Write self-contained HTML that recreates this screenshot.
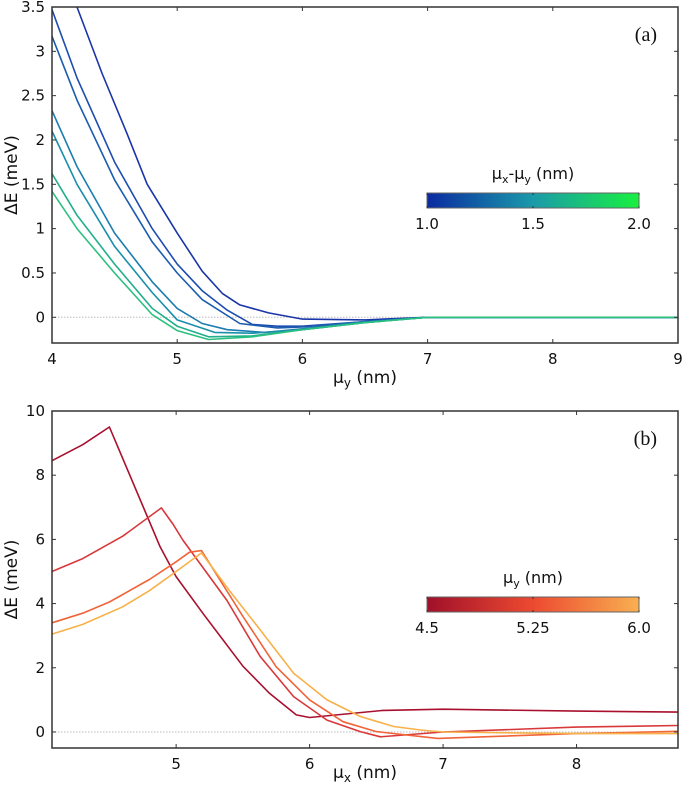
<!DOCTYPE html>
<html><head><meta charset="utf-8"><style>
body{margin:0;background:#fff;}
svg{display:block;font-family:"DejaVu Sans","Liberation Sans",sans-serif;}
</style></head><body>
<svg id="chart" width="685" height="793" viewBox="0 0 685 793">
<defs>
<linearGradient id="gA" x1="0" x2="1"><stop offset="0" stop-color="#0a2aa0"/><stop offset="0.5" stop-color="#1a9aaa"/><stop offset="1" stop-color="#18f040"/></linearGradient>
<linearGradient id="gB" x1="0" x2="1"><stop offset="0" stop-color="#a0102a"/><stop offset="0.5" stop-color="#ec4a30"/><stop offset="1" stop-color="#f8b050"/></linearGradient>
</defs>
<g id="pa"></g>
<g id="pb"></g>
</svg>
<script>
// Panel (a) data
const aXTicks=[4,5,6,7,8,9];
const aYTicks=[0,0.5,1,1.5,2,2.5,3,3.5];
const aColors=["#1a35a8","#1c4cb0","#1b5cae","#1a7cb0","#1a8eaa","#22ae8c","#2cc080"];
const aSeriesX=[
[4.2,4.4,4.6,4.76,5.0,5.2,5.36,5.5,5.73,6.0,6.5,7,8,9],
[4.0,4.2,4.5,4.8,5.0,5.2,5.4,5.6,5.8,6.0,6.5,7,8,9],
[4.0,4.2,4.5,4.8,5.0,5.2,5.5,5.8,6.0,6.5,7,8,9],
[4.0,4.2,4.5,4.8,5.0,5.2,5.4,5.7,6.0,6.5,7,8,9],
[4.0,4.2,4.5,4.8,5.0,5.3,5.6,6.0,6.5,7,8,9],
[4.0,4.2,4.5,4.8,5.0,5.25,5.6,6.0,6.5,7,8,9],
[4.0,4.2,4.5,4.8,5.0,5.25,5.6,6.0,6.5,7,8,9]];
const aSeriesY=[
[3.5,2.75,2.07,1.5,0.95,0.52,0.27,0.14,0.05,-0.02,-0.03,0,0,0],
[3.47,2.7,1.75,1.0,0.6,0.3,0.08,-0.08,-0.1,-0.1,-0.05,0,0,0],
[3.17,2.45,1.55,0.85,0.5,0.2,-0.07,-0.12,-0.11,-0.05,0,0,0],
[2.33,1.7,0.95,0.4,0.1,-0.07,-0.14,-0.17,-0.13,-0.05,0,0,0],
[2.1,1.5,0.8,0.28,-0.03,-0.17,-0.18,-0.14,-0.06,0,0,0],
[1.62,1.15,0.6,0.1,-0.1,-0.22,-0.21,-0.14,-0.06,0,0,0],
[1.42,1.0,0.5,0.03,-0.15,-0.25,-0.22,-0.14,-0.06,0,0,0]];
// Panel (b) data
const bXTicks=[5,6,7,8];
const bYTicks=[0,2,4,6,8,10];
const bColors=["#a8102e","#d8383a","#f06438","#f8b048"];
const bSeriesX=[
[4.07,4.3,4.5,4.88,5.0,5.2,5.5,5.7,5.9,6.0,6.55,7.0,8.0,8.76],
[4.07,4.3,4.6,4.89,4.98,5.05,5.38,5.63,5.88,6.13,6.38,6.53,7.0,8.0,8.76],
[4.07,4.3,4.5,4.8,5.0,5.1,5.19,5.5,5.75,6.0,6.25,6.5,6.96,8.0,8.76],
[4.07,4.3,4.6,4.8,5.0,5.19,5.4,5.63,5.88,6.13,6.38,6.63,6.83,7.0,8.0,8.76]];
const bSeriesY=[
[8.45,8.95,9.5,5.77,4.84,3.7,2.05,1.2,0.53,0.45,0.67,0.71,0.65,0.62],
[5.0,5.4,6.1,6.98,6.45,5.98,4.1,2.35,1.1,0.37,0.01,-0.15,0.0,0.15,0.2],
[3.4,3.7,4.05,4.75,5.3,5.6,5.65,3.6,2.03,1.0,0.32,0.01,-0.2,-0.05,0.02],
[3.05,3.35,3.9,4.4,5.0,5.58,4.4,3.18,1.83,1.0,0.48,0.17,0.06,0.0,-0.05,-0.05]];

const NS="http://www.w3.org/2000/svg";
function mk(p,t,a){const e=document.createElementNS(NS,t);for(const k in a)e.setAttribute(k,a[k]);p.appendChild(e);return e;}
const L=52,R=678;
function panel(g,o){
  const sx=v=>L+(v-o.x0)/(o.x1-o.x0)*(R-L);
  const sy=v=>o.top+(o.y1-v)/(o.y1-o.y0)*(o.bot-o.top);
  const zl=mk(g,'line',{x1:L,x2:R,y1:sy(0),y2:sy(0),stroke:'#bbb','stroke-dasharray':'1.5,1.5','stroke-width':1});
  
  
  o.sx.forEach((xs,i)=>{
    const d=xs.map((x,j)=>(j?'L':'M')+sx(x).toFixed(1)+','+sy(o.sy[i][j]).toFixed(1)).join('');
    const p=mk(g,'path',{d:d,fill:'none',stroke:o.colors[i],'stroke-width':1.6,'stroke-linejoin':'round'});
    
    
  });
  const fr=mk(g,'rect',{x:L,y:o.top,width:R-L,height:o.bot-o.top,fill:'none',stroke:'#333','stroke-width':1.5});
  
  
  o.xt.forEach(v=>{
    mk(g,'line',{x1:sx(v),x2:sx(v),y1:o.bot,y2:o.bot-4,stroke:'#333'});
    mk(g,'line',{x1:sx(v),x2:sx(v),y1:o.top,y2:o.top+4,stroke:'#333'});
    const t=mk(g,'text',{x:sx(v),y:o.bot+21,'text-anchor':'middle','font-size':15,fill:'#111'});t.textContent=v;
    
    
  });
  o.yt.forEach(v=>{
    mk(g,'line',{x1:L,x2:L+4,y1:sy(v),y2:sy(v),stroke:'#333'});
    mk(g,'line',{x1:R,x2:R-4,y1:sy(v),y2:sy(v),stroke:'#333'});
    const t=mk(g,'text',{x:L-7,y:sy(v)+5,'text-anchor':'end','font-size':15,fill:'#111'});t.textContent=v;
    
    
  });
  const yl=mk(g,'text',{transform:`translate(17,${(o.top+o.bot)/2}) rotate(-90)`,'text-anchor':'middle','font-size':17,fill:'#111'});
  yl.textContent='ΔE (meV)';
  
  
  const xl=mk(g,'text',{x:365,y:o.bot+o.xlOff,'text-anchor':'middle','font-size':17,fill:'#111'});
  xl.innerHTML='μ<tspan font-size="12" dy="4">'+o.sub+'</tspan><tspan dy="-4"> (nm)</tspan>';
  
  
  const pl=mk(g,'text',{x:657,y:o.top+34,'text-anchor':'end','font-size':20,'font-family':'Liberation Serif,serif',fill:'#111'});
  pl.textContent=o.label;
  
  
  const cb=mk(g,'rect',{x:427,y:o.cby,width:212,height:15,fill:o.grad,stroke:'#666'});
  
  
  const ct=mk(g,'text',{x:533,y:o.cby-14,'text-anchor':'middle','font-size':16,fill:'#111'});
  ct.innerHTML=o.cbTitle;
  
  
  o.cbl.forEach((s,i)=>{
    const x=427+i*106;
    mk(g,'line',{x1:x,x2:x,y1:o.cby,y2:o.cby+15,stroke:'#333','stroke-dasharray':'2,11'});
    const t=mk(g,'text',{x:x,y:o.cby+36,'text-anchor':'middle','font-size':15,fill:'#111'});t.textContent=s;
    
    
  });
}
panel(document.getElementById('pa'),{x0:4,x1:9,y0:-0.29,y1:3.5,top:7,bot:343,xlOff:40,sx:aSeriesX,sy:aSeriesY,colors:aColors,xt:aXTicks,yt:aYTicks,sub:'y',label:'(a)',cby:193,grad:'url(#gA)',cbTitle:'μ<tspan font-size="11" dy="4">x</tspan><tspan dy="-4">-μ</tspan><tspan font-size="11" dy="4">y</tspan><tspan dy="-4"> (nm)</tspan>',cbl:['1.0','1.5','2.0']});
panel(document.getElementById('pb'),{x0:4.07,x1:8.76,y0:-0.5,y1:10,top:411,bot:748,xlOff:30,sx:bSeriesX,sy:bSeriesY,colors:bColors,xt:bXTicks,yt:bYTicks,sub:'x',label:'(b)',cby:597,grad:'url(#gB)',cbTitle:'μ<tspan font-size="11" dy="4">y</tspan><tspan dy="-4"> (nm)</tspan>',cbl:['4.5','5.25','6.0']});
</script>
</body></html>
